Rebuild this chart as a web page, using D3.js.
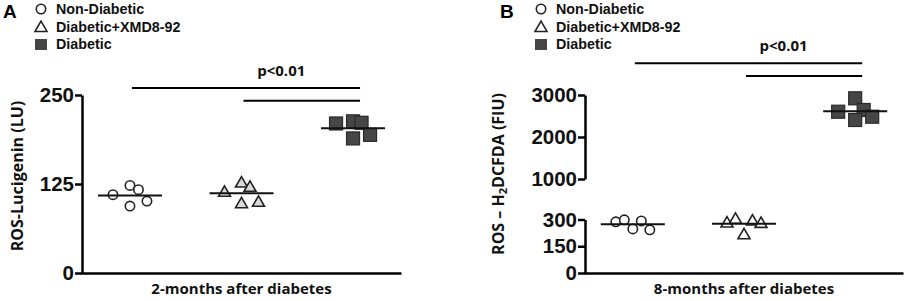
<!DOCTYPE html>
<html>
<head>
<meta charset="utf-8">
<script src="https://cdn.jsdelivr.net/npm/d3@7"></script>
<style>
  body { margin: 0; background: #fff; }
  svg { display: block; }
</style>
</head>
<body>
<div id="chart"></div>
<script>
// groups (legend order) and the scatter values
const groups = ['Non-Diabetic', 'Diabetic+XMD8-92', 'Diabetic'];

// panel A: 2 months, ROS-Lucigenin (LU)
const nonDiabetic2m = [110, 123, 117, 94, 101];
const xmd2m = [114, 127, 121, 98, 100];
const diabetic2m = [210, 213, 211, 189, 194];
const slots2m = [-2, 0, 1, 0, 2];
const ticks2m = [0, 125, 250];

// panel B: 8 months, ROS - H2DCFDA (FIU), broken axis
const nonDiabetic8m = [287, 298, 247, 292, 242];
const xmd8m = [283, 304, 217, 294, 281];
const diabetic8m = [2602, 2921, 2643, 2405, 2483];
const slots8mOpen = [-2, -1, 0, 1, 2];
const slots8mSquare = [-2, 0, 1, 0, 2];
const ticks8mLow = [0, 150, 300];
const ticks8mHigh = [1000, 2000, 3000];

const W = 906, H = 301;
const svg = d3.select('#chart').append('svg')
  .attr('width', W).attr('height', H);

const tickFont = '"Liberation Sans", Arial, sans-serif';
const labelFont = '"Open Sans", "Liberation Sans", sans-serif';

const xAxisY = 273;

function drawMarker(g, kind, x, y, triFill) {
  if (kind === 0) {
    g.append('circle').attr('cx', x).attr('cy', y).attr('r', 4.7)
      .attr('fill', '#fff').attr('stroke', '#222').attr('stroke-width', 1.6);
  } else if (kind === 1) {
    g.append('path').attr('d', d3.symbol(d3.symbolTriangle).size(62)())
      .attr('transform', `translate(${x},${y + 1})`)
      .attr('fill', triFill || '#fff').attr('stroke', '#222').attr('stroke-width', 1.6);
  } else {
    g.append('rect').attr('x', x - 6.5).attr('y', y - 6.5)
      .attr('width', 13).attr('height', 13)
      .attr('fill', '#464646').attr('stroke', '#2a2a2a').attr('stroke-width', 1.2);
  }
}

function legend(letter, letterX, markerX) {
  const g = svg.append('g');
  g.append('text').attr('x', letterX).attr('y', 18)
    .attr('font-family', tickFont).attr('font-weight', 'bold').attr('font-size', '19px')
    .text(letter);
  groups.forEach((name, i) => {
    if (i === 2) {
      g.append('rect').attr('x', markerX - 6).attr('y', 39 + (i - 2) * 18)
        .attr('width', 12).attr('height', 11).attr('fill', '#464646');
    } else {
      drawMarker(g, i, markerX, 9 + i * 18, '#fff');
    }
    g.append('text').attr('x', markerX + 15).attr('y', 14 + i * 17.7)
      .attr('font-family', tickFont).attr('font-weight', 'bold').attr('font-size', '14.3px')
      .attr('fill', '#111')
      .text(name);
  });
}

function styleAxis(sel) {
  sel.selectAll('path.domain').attr('stroke', '#000').attr('stroke-width', 2.5);
  sel.selectAll('.tick line').attr('stroke', '#000').attr('stroke-width', 2.5);
  sel.selectAll('.tick text')
    .attr('font-family', tickFont).attr('font-weight', 'bold')
    .attr('font-size', '20.5px').attr('fill', '#111');
}

function panel(opt) {
  const x = d3.scalePoint().domain(groups)
    .range([opt.x0, opt.x1]).padding(0.43);
  const jitter = d3.scaleLinear().domain([-2, 2]).range([-17, 17]);

  // y axis
  opt.yScales.forEach((ys, k) => {
    const ax = svg.append('g')
      .attr('transform', `translate(${opt.x0},0)`)
      .call(d3.axisLeft(ys).tickValues(opt.tickSets[k]).tickSize(7)
        .tickSizeOuter(0).tickPadding(1).tickFormat(d3.format('d')));
    styleAxis(ax);
  });

  // x axis line
  const xa = svg.append('g')
    .attr('transform', `translate(0,${xAxisY})`)
    .call(d3.axisBottom(d3.scaleLinear().range([opt.x0 - 1, opt.x1]))
      .tickValues([]).tickSizeOuter(0));
  styleAxis(xa);

  // y label
  const yl = svg.append('text')
    .attr('transform', `translate(${opt.yLabelX},${opt.yLabelY}) rotate(-90)`)
    .attr('text-anchor', 'middle')
    .attr('font-family', labelFont).attr('font-weight', 'bold').attr('font-size', '16px')
    .attr('fill', '#111');
  opt.yLabel(yl);

  // x title
  svg.append('text')
    .attr('x', (opt.x0 + opt.x1) / 2).attr('y', 294)
    .attr('text-anchor', 'middle')
    .attr('font-family', labelFont).attr('font-weight', 'bold').attr('font-size', '15px')
    .attr('fill', '#111')
    .text(opt.title);

  // points + mean lines
  opt.series.forEach((vals, gi) => {
    const cx = x(groups[gi]);
    const mean = d3.mean(vals);
    const g = svg.append('g');
    vals.forEach((v, i) => {
      drawMarker(g, gi, cx + jitter(opt.slots[gi][i]), opt.y(v), opt.triFill);
    });
    g.append('line')
      .attr('x1', cx - 32).attr('x2', cx + 32)
      .attr('y1', opt.y(mean)).attr('y2', opt.y(mean))
      .attr('stroke', '#111').attr('stroke-width', 2);
  });

  // significance bars
  const right = x(groups[2]) + 7;
  [[0, opt.sig[0]], [1, opt.sig[1]]].forEach(([gi, v]) => {
    svg.append('line')
      .attr('x1', x(groups[gi]) + 2).attr('x2', right)
      .attr('y1', opt.y(v)).attr('y2', opt.y(v))
      .attr('stroke', '#000').attr('stroke-width', 2);
  });
  svg.append('text')
    .attr('x', (x(groups[1]) + x(groups[2])) / 2 - 16)
    .attr('y', opt.y(opt.sig[2]))
    .attr('text-anchor', 'middle')
    .attr('font-family', labelFont).attr('font-weight', 'bold').attr('font-size', '15px')
    .attr('fill', '#111')
    .text('p<0.01');
}

// Panel A
legend('A', 3, 41);
const yA = d3.scaleLinear().domain([0, 250]).range([xAxisY, 95]);
panel({
  x0: 82, x1: 401,
  yScales: [yA], tickSets: [ticks2m],
  y: yA,
  yLabelX: 23, yLabelY: 176,
  yLabel: t => t.text('ROS-Lucigenin (LU)'),
  title: '2-months after diabetes',
  series: [nonDiabetic2m, xmd2m, diabetic2m],
  slots: [slots2m, slots2m, slots2m],
  triFill: '#d9d9d9',
  sig: [260, 242, 277]
});

// Panel B
legend('B', 500, 541);
const yBLow = d3.scaleLinear().domain([0, 300]).range([xAxisY, 219.5]);
const yBHigh = d3.scaleLinear().domain([1000, 3000]).range([179, 95]);
const yB = v => v >= 1000 ? yBHigh(v) : yBLow(v);
panel({
  x0: 585, x1: 903,
  yScales: [yBLow, yBHigh], tickSets: [ticks8mLow, ticks8mHigh],
  y: yB,
  yLabelX: 504, yLabelY: 174,
  yLabel: t => {
    t.append('tspan').text('ROS \u2013 H');
    t.append('tspan').attr('font-size', '11px').attr('dy', 3).text('2');
    t.append('tspan').attr('dy', -3).text('DCFDA (FIU)');
  },
  title: '8-months after diabetes',
  series: [nonDiabetic8m, xmd8m, diabetic8m],
  slots: [slots8mOpen, slots8mOpen, slots8mSquare],
  triFill: '#fff',
  sig: [3755, 3452, 4048]
});
</script>
</body>
</html>
